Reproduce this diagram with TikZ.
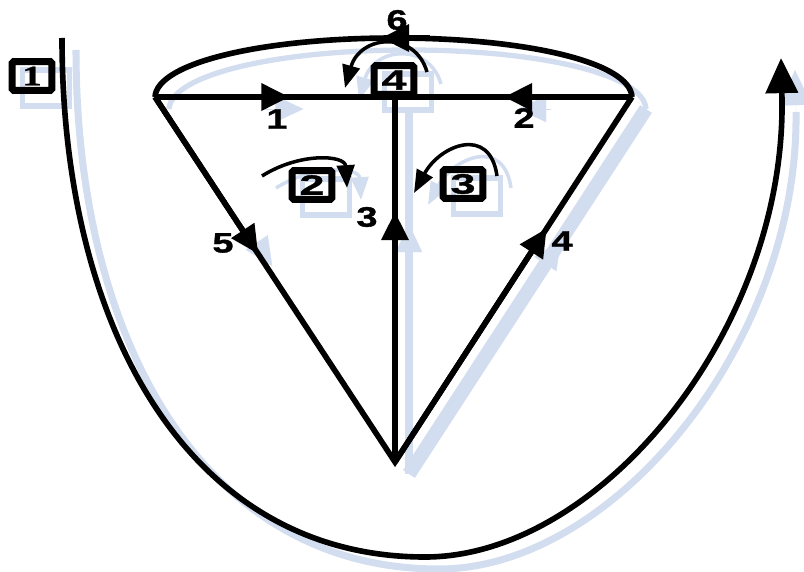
\documentclass[tikz,border=0pt]{standalone}
\usepackage{fontspec}
\newfontfamily\lblfont[FakeStretch=1.35, FakeBold=1.2]{Liberation Sans}
\newfontfamily\boxfont[FakeStretch=1.6, FakeBold=1.2]{Liberation Sans}
\newfontfamily\boxserif[FakeStretch=1.4, FakeBold=1.2]{Liberation Serif}
\usepackage{xcolor}
\definecolor{shadowblue}{RGB}{210,221,240}
\usepackage{tikz}
\usetikzlibrary{arrows.meta, calc}
\pgfdeclarelayer{background}
\pgfsetlayers{background,main}

\begin{document}
\begin{tikzpicture}[x=0.02cm, y=-0.02cm,
  edge/.style={line width=3.2pt},
  turn/.style={line width=2pt},
  midtip/.style={-{Triangle[length=16pt, width=15pt]}},
  bigtip/.style={-{Triangle[length=20pt, width=18pt]}},
  turntip/.style={-{Triangle[length=13pt, width=10pt]}},
  numbox/.style={draw, line width=4pt, rounded corners=1pt,
                 minimum width=22.7pt, minimum height=16.4pt, inner sep=0pt,
                 font=\boxfont\bfseries\fontsize{16}{16}\selectfont},
  lbl/.style={inner sep=0pt, font=\lblfont\bfseries\fontsize{16}{16}\selectfont},
]
\useasboundingbox (0,0) rectangle (804,571);

% Corners
\coordinate (A) at (155,97);
\coordinate (B) at (632,97);
\coordinate (M) at (395,97);
\coordinate (V) at (395,462);
\coordinate (T) at (395,38);
\coordinate (Ustart) at (62,38);
\coordinate (Ubottom) at (425,557);
\coordinate (Uend) at (781,58);

% Boxes
\node[numbox] (box1) at (32,76) {\boxserif 1};
\node[numbox] (box2) at (312,185) {2};
\node[numbox] (box3) at (463,184) {3};
\node[numbox] (box4) at (394,80) {4};

% Edge labels
\node[lbl] (n1) at (277,119) {1};
\node[lbl] (n2) at (524,118) {2};
\node[lbl] (n3) at (367,217) {3};
\node[lbl] (n4) at (562,241) {4};
\node[lbl] (n5) at (223,243) {5};
\node[lbl] (n6) at (397,20) {6};

% Shadow
\begin{pgfonlayer}{background}
\begin{scope}[transform canvas={shift={(14,12)}}, color=shadowblue]
\draw[line width=4pt] (Ustart) .. controls (62,330) and (190,557) .. (Ubottom)
  .. controls (600,557) and (785,330) .. (782,100);
\draw[line width=0.1pt, bigtip] (782,100) -- (Uend);
\draw[line width=3pt] (A) .. controls (157,62) and (265,38) .. (T)
  .. controls (525,38) and (630,62) .. (B);
\draw[line width=8pt] (V) -- (B);
\draw[line width=4pt] (M) -- (V);
\draw[line width=0.1pt, midtip] ($(A)!0.4!(M)$) -- ($(A)!0.56!(M)$);
\draw[line width=0.1pt, midtip] ($(B)!0.4!(M)$) -- ($(B)!0.54!(M)$);
\draw[line width=0.1pt, midtip] ($(V)!0.5!(M)$) -- ($(V)!0.685!(M)$);
\draw[line width=0.1pt, midtip] ($(V)!0.5!(B)$) -- ($(V)!0.64!(B)$);
\draw[line width=0.1pt, midtip] ($(A)!0.3!(V)$) -- ($(A)!0.43!(V)$);
\foreach \b in {box1, box2, box3, box4}
  \draw[line width=3pt] (\b.south west) rectangle (\b.north east);
\draw[turn, turntip] (262,176) .. controls (300,152) and (345,155) .. (347,188);
\draw[turn, turntip] (497,176) .. controls (490,125) and (440,145) .. (414,193);
\draw[turn, turntip] (427,72) .. controls (415,30) and (360,35) .. (345,88);
\end{scope}
\end{pgfonlayer}

% Outer loop
\draw[edge] (Ustart) .. controls (62,330) and (190,557) .. (Ubottom)
  .. controls (600,557) and (785,330) .. (782,100);
\draw[edge, bigtip] (782,100) -- (Uend);

% Top loop
\draw[edge] (A) .. controls (157,62) and (265,38) .. (T)
  .. controls (525,38) and (630,62) .. (B);
\draw[edge, midtip] ($(T)+(35,0)$) -- ($(T)+(-14,0)$);

% Triangle
\draw[edge] (A) -- (B);
\draw[edge] (M) -- (V);
\draw[edge] (A) -- (V) -- (B);
\draw[edge, midtip] (A) -- ($(A)!0.56!(M)$);
\draw[edge, midtip] (B) -- ($(B)!0.54!(M)$);
\draw[edge, midtip] (V) -- ($(V)!0.685!(M)$);
\draw[edge, midtip] (V) -- ($(V)!0.64!(B)$);
\draw[edge, midtip] (A) -- ($(A)!0.43!(V)$);

% Turning arrows
\draw[turn, turntip] (262,176) .. controls (300,152) and (345,155) .. (347,188);
\draw[turn, turntip] (497,176) .. controls (490,125) and (440,145) .. (414,193);
\draw[turn, turntip] (427,72) .. controls (415,30) and (360,35) .. (345,88);
\end{tikzpicture}
\end{document}
